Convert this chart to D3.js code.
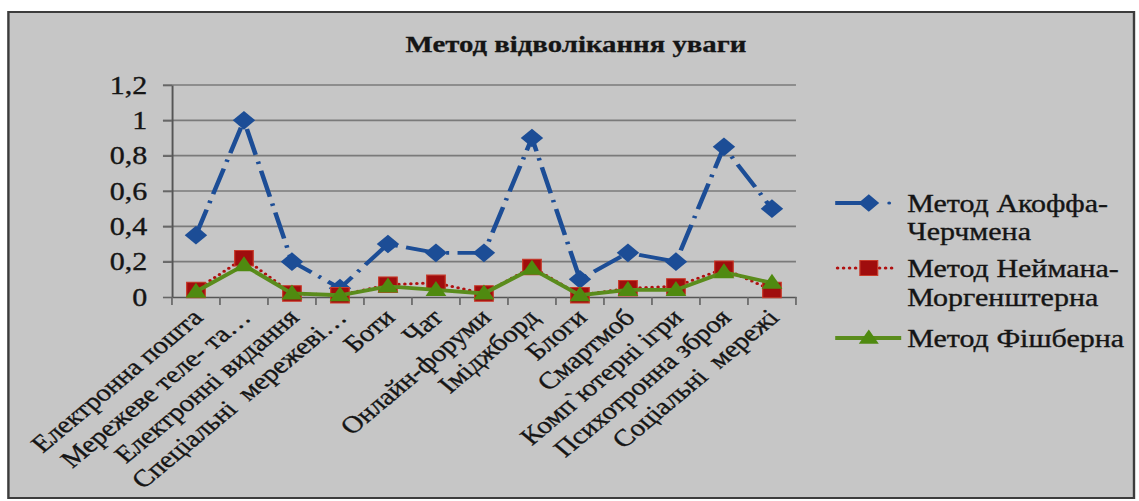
<!DOCTYPE html>
<html><head><meta charset="utf-8">
<script src="https://cdn.jsdelivr.net/npm/d3@7"></script>
<style>
html,body{margin:0;padding:0;background:#fff;}
svg{display:block;}
text{white-space:pre;}
</style></head>
<body>
<svg id="chart" width="1139" height="501"></svg>
<script>
const categories = ["Електронна пошта","Мережеве теле- та…","Електронні видання","Спеціальні  мережеві…","Боти","Чат","Онлайн-форуми","Іміджборд","Блоги","Смартмоб","Комп`ютерні ігри","Психотронна зброя","Соціальні  мережі"];
const seriesNames = ["Метод Акоффа-Черчмена","Метод Неймана-Моргенштерна","Метод Фішберна"];
const akoff = [0.35,1.0,0.2,0.05,0.3,0.25,0.25,0.9,0.1,0.25,0.2,0.85,0.5];
const neumann = [0.04,0.22,0.02,0.01,0.07,0.08,0.02,0.17,0.01,0.05,0.06,0.16,0.04];
const fishburn = [0.03,0.18,0.02,0.01,0.06,0.04,0.02,0.16,0.01,0.04,0.04,0.14,0.08];
const yTicks = [0,0.2,0.4,0.6,0.8,1,1.2];
const yTickLabels = ["0","0,2","0,4","0,6","0,8","1","1,2"];
const legendLines = [["Метод Акоффа-","Черчмена"],["Метод Неймана-","Моргенштерна"],["Метод Фішберна"]];
const title = "Метод відволікання уваги";

const SX = 1.2; // horizontal stretch of the reference picture
const FONT = "'Liberation Serif','Times New Roman',serif";
const TXT = "#151515";
const svg = d3.select("#chart");
const root = svg.append("g").attr("transform", `scale(${SX},1)`);

// frame
root.append("rect").attr("x", 7).attr("y", 12).attr("width", 938).attr("height", 486)
  .attr("fill", "#c6c6c6").attr("stroke", "#3c3c3c").attr("stroke-width", 2);

const x0 = 143.3, x1 = 663.3, yTop = 85, yBot = 297;
const x = d3.scaleBand().domain(categories).range([x0, x1]).padding(0);
const y = d3.scaleLinear().domain([0, 1.2]).range([yBot, yTop]);
const cx = c => x(c) + x.bandwidth() / 2;

// title
root.append("text").attr("x", 480).attr("y", 52).attr("text-anchor", "middle")
  .attr("font-family", FONT).attr("font-weight", "bold").attr("font-size", 24)
  .attr("fill", TXT).attr("stroke", TXT).attr("stroke-width", 0.3).text(title);

// gridlines
root.append("g").selectAll("line").data(yTicks.filter(d => d > 0)).join("line")
  .attr("x1", x0 - 7.5).attr("x2", x1).attr("y1", d => y(d)).attr("y2", d => y(d))
  .attr("stroke", "#7a7a7a").attr("stroke-width", 1.6);

// y axis
const yAxis = root.append("g").attr("transform", `translate(${x0},0)`)
  .call(d3.axisLeft(y).tickValues(yTicks).tickSizeInner(7.5).tickSizeOuter(0).tickPadding(13)
    .tickFormat((d, i) => yTickLabels[i]));
yAxis.select(".domain").attr("stroke", "#555").attr("stroke-width", 1.6);
yAxis.selectAll(".tick line").attr("stroke", "#666").attr("stroke-width", 1.6);
yAxis.selectAll(".tick text").attr("font-family", FONT).attr("font-size", 25).attr("fill", TXT)
  .attr("stroke", TXT).attr("stroke-width", 0.35);

// x axis
const xAxis = root.append("g").attr("transform", `translate(0,${yBot})`)
  .call(d3.axisBottom(x).tickSize(0).tickPadding(0));
xAxis.select(".domain").attr("stroke", "#555").attr("stroke-width", 1.6);
xAxis.selectAll(".tick text").attr("font-family", FONT).attr("font-size", 24).attr("fill", TXT)
  .attr("stroke", TXT).attr("stroke-width", 0.35)
  .attr("text-anchor", "end").attr("dy", "0")
  .attr("transform", "translate(7,22) rotate(-45)");
// tick marks between categories
const bounds = categories.map(c => x(c)).concat([x1]);
root.append("g").selectAll("line").data(bounds).join("line")
  .attr("x1", d => d).attr("x2", d => d).attr("y1", yBot).attr("y2", yBot + 8)
  .attr("stroke", "#666").attr("stroke-width", 1.4);

const line = d3.line().x((d, i) => cx(categories[i])).y(d => y(d));

// series 1: Akoff-Churchman
const blue = "#1c4d96";
root.append("path").datum(akoff).attr("d", line).attr("fill", "none")
  .attr("stroke", blue).attr("stroke-width", 3.8).attr("stroke-dasharray", "27,7,2.5,7");
root.append("g").selectAll("path").data(akoff).join("path")
  .attr("d", d3.symbol(d3.symbolSquare, 175))
  .attr("transform", (d, i) => `translate(${cx(categories[i])},${y(d)}) rotate(45)`)
  .attr("fill", blue);

// series 2: Neumann-Morgenstern
const red = "#a00d0d";
root.append("path").datum(neumann).attr("d", line).attr("fill", "none")
  .attr("stroke", "#b01010").attr("stroke-width", 3).attr("stroke-linecap", "round")
  .attr("stroke-dasharray", "0,5");
root.append("g").selectAll("path").data(neumann).join("path")
  .attr("d", d3.symbol(d3.symbolSquare, 240))
  .attr("transform", (d, i) => `translate(${cx(categories[i])},${y(d)})`)
  .attr("fill", red).attr("stroke", "#c83a2a").attr("stroke-width", 1);

// series 3: Fishburn
const green = "#5a8c1c";
root.append("path").datum(fishburn).attr("d", line).attr("fill", "none")
  .attr("stroke", green).attr("stroke-width", 3.8);
root.append("g").selectAll("path").data(fishburn).join("path")
  .attr("d", d3.symbol(d3.symbolTriangle, 130))
  .attr("transform", (d, i) => `translate(${cx(categories[i])},${y(d) + 1})`)
  .attr("fill", "#4f8a10");

// legend
const lx0 = 696, lx1 = 747, lm = 724, tx = 756;
const legY = [203, 268, 338];
const lineY = [[212, 240], [277, 306], [347]];
const lg = root.append("g");
// blue
lg.append("line").attr("x1", lx0).attr("x2", lm).attr("y1", legY[0]).attr("y2", legY[0])
  .attr("stroke", blue).attr("stroke-width", 3.8);
lg.append("circle").attr("cx", 741).attr("cy", legY[0]).attr("r", 1.6).attr("fill", blue);
lg.append("path").attr("d", d3.symbol(d3.symbolSquare, 150))
  .attr("transform", `translate(${lm},${legY[0]}) rotate(45)`).attr("fill", blue);
// red
lg.append("line").attr("x1", lx0 + 2).attr("x2", lx1).attr("y1", legY[1]).attr("y2", legY[1])
  .attr("stroke", "#b01010").attr("stroke-width", 3).attr("stroke-linecap", "round").attr("stroke-dasharray", "0,5");
lg.append("path").attr("d", d3.symbol(d3.symbolSquare, 220))
  .attr("transform", `translate(${lm},${legY[1]})`).attr("fill", red).attr("stroke", "#c83a2a");
// green
lg.append("line").attr("x1", lx0).attr("x2", lx1 + 4).attr("y1", legY[2]).attr("y2", legY[2])
  .attr("stroke", green).attr("stroke-width", 3.8);
lg.append("path").attr("d", d3.symbol(d3.symbolTriangle, 120))
  .attr("transform", `translate(${lm},${legY[2] + 1})`).attr("fill", "#4f8a10");
// texts
legendLines.forEach((lines, i) => {
  const t = lg.append("text").attr("font-family", FONT).attr("font-size", 25).attr("fill", TXT)
    .attr("stroke", TXT).attr("stroke-width", 0.35);
  lines.forEach((s, j) => t.append("tspan").attr("x", tx).attr("y", lineY[i][j]).text(s));
});
</script>
</body></html>
